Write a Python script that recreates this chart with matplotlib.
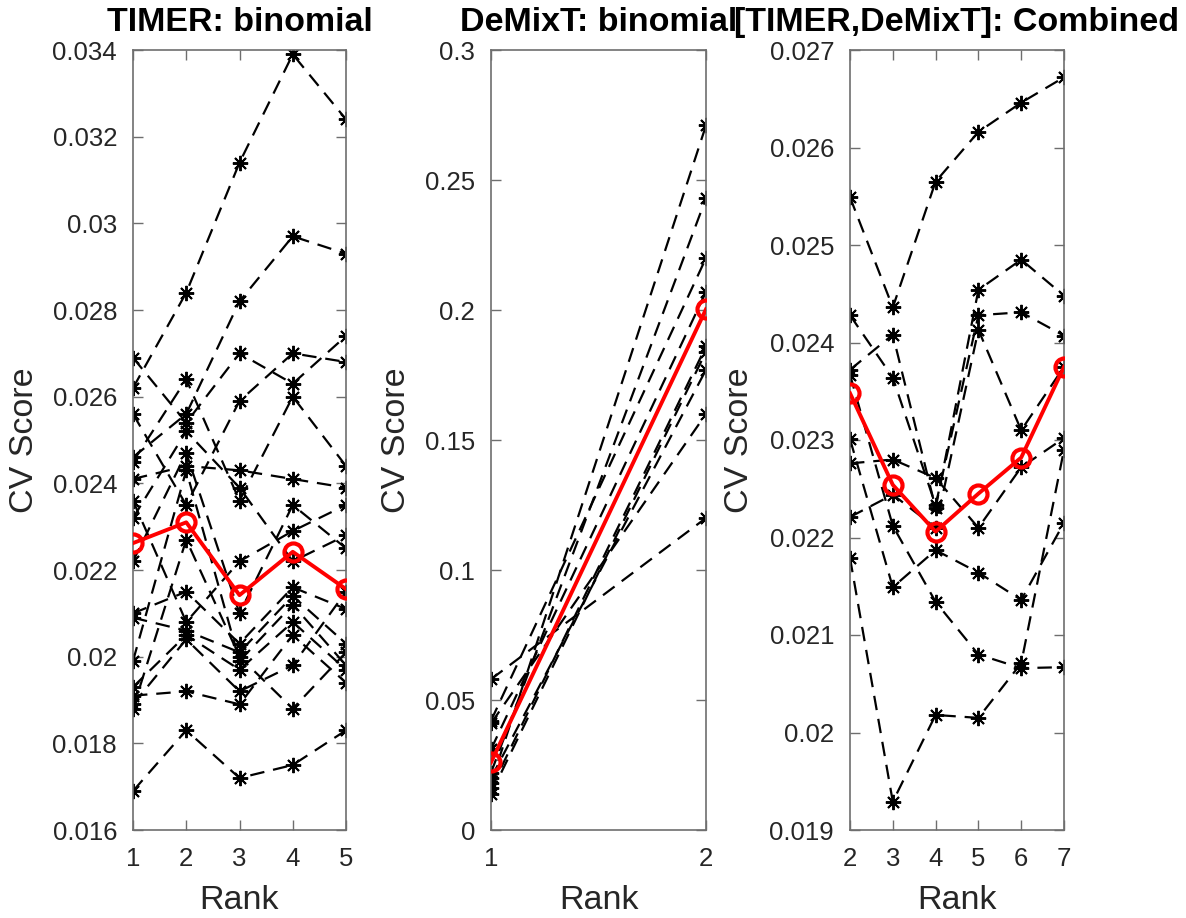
import matplotlib
matplotlib.use("Agg")
import matplotlib.pyplot as plt
from matplotlib.ticker import FuncFormatter
import numpy as np

plt.rcParams['font.family'] = ['Liberation Sans', 'DejaVu Sans']

# ---------------- data ----------------
timer_ranks = [1, 2, 3, 4, 5]
timer_runs = [
    [0.0262, 0.0284, 0.0314, 0.0339, 0.0324],
    [0.0246, 0.0256, 0.0282, 0.0297, 0.0293],
    [0.0169, 0.0183, 0.0172, 0.0175, 0.0183],
    [0.0269, 0.0254, 0.0270, 0.0263, 0.0274],
    [0.0256, 0.0235, 0.0259, 0.0270, 0.0268],
    [0.0245, 0.0264, 0.0236, 0.0260, 0.0244],
    [0.0241, 0.0244, 0.0243, 0.0241, 0.0239],
    [0.0236, 0.0208, 0.0222, 0.0229, 0.0235],
    [0.0232, 0.0252, 0.0239, 0.0222, 0.0228],
    [0.0222, 0.0247, 0.0210, 0.0235, 0.0225],
    [0.0210, 0.0215, 0.0203, 0.0216, 0.0211],
    [0.0209, 0.0206, 0.0201, 0.0214, 0.0203],
    [0.0199, 0.0243, 0.0199, 0.0212, 0.0198],
    [0.0193, 0.0205, 0.0197, 0.0208, 0.0197],
    [0.0191, 0.0192, 0.0189, 0.0205, 0.0194],
    [0.0189, 0.0204, 0.0192, 0.0198, 0.0215],
    [0.0188, 0.0227, 0.0200, 0.0188, 0.0201],
]
timer_mean = [0.02262, 0.02310, 0.02142, 0.02242, 0.02156]

demixt_ranks = [1, 2]
demixt_runs = [
    [0.058, 0.120],
    [0.042, 0.220],
    [0.041, 0.160],
    [0.031, 0.207],
    [0.022, 0.243],
    [0.020, 0.177],
    [0.018, 0.271],
    [0.016, 0.186],
    [0.014, 0.184],
]
demixt_mean = [0.0260, 0.2003]

comb_ranks = [2, 3, 4, 5, 6, 7]
comb_runs = [
    [0.02549, 0.02436, 0.02565, 0.02616, 0.02646, 0.02672],
    [0.02179, 0.01929, 0.02018, 0.02015, 0.02071, 0.02290],
    [0.02367, 0.02212, 0.02134, 0.02080, 0.02066, 0.02067],
    [0.02301, 0.02149, 0.02187, 0.02164, 0.02136, 0.02215],
    [0.02276, 0.02280, 0.02261, 0.02210, 0.02272, 0.02302],
    [0.02372, 0.02408, 0.02230, 0.02454, 0.02485, 0.02448],
    [0.02428, 0.02364, 0.02233, 0.02428, 0.02431, 0.02407],
    [0.02221, 0.02244, 0.02210, 0.02413, 0.02310, 0.02375],
]
comb_mean = [0.02348, 0.02254, 0.02206, 0.02245, 0.02282, 0.02375]

titles = ["TIMER: binomial", "DeMixT: binomial", "[TIMER,DeMixT]: Combined"]
ylims = [(0.016, 0.034), (0.0, 0.3), (0.019, 0.027)]
yticks = [np.arange(0.016, 0.0341, 0.002), np.arange(0.0, 0.301, 0.05),
          np.arange(0.019, 0.0271, 0.001)]
xlims = [(1, 5), (1, 2), (2, 7)]

# ---------------- layout ----------------
W, H = 1186, 918
fig = plt.figure(figsize=(W / 100, H / 100), dpi=100)
boxes_px = [(133, 346), (491, 706), (850, 1064)]
top_px, bot_px = 50, 830
ylabel_right_px = [40, 412, 755]

AX_COL = '#262626'
SPINE_COL = '#6e6e6e'


def fmt(v, pos):
    s = ('%.4f' % v).rstrip('0').rstrip('.')
    return s


panels = [
    (timer_ranks, timer_runs, timer_mean),
    (demixt_ranks, demixt_runs, demixt_mean),
    (comb_ranks, comb_runs, comb_mean),
]

axes = []
for i, (ranks, runs, mean) in enumerate(panels):
    x0, x1 = boxes_px[i]
    ax = fig.add_axes([x0 / W, (H - bot_px) / H, (x1 - x0) / W, (bot_px - top_px) / H])
    axes.append(ax)
    for run in runs:
        ax.plot(ranks, run, color='black', lw=1.6, dashes=(6.5, 4),
                marker=(8, 2, 0), markersize=11, markeredgewidth=1.4,
                markeredgecolor='black', zorder=2)
    ax.plot(ranks, mean, color='#ff0000', lw=2.8, marker='o', markersize=13,
            markerfacecolor='none', markeredgecolor='#ff0000',
            markeredgewidth=3.0, zorder=3)
    ax.set_xlim(*xlims[i])
    ax.set_ylim(*ylims[i])
    ax.set_xticks(ranks)
    ax.set_yticks(yticks[i])
    ax.yaxis.set_major_formatter(FuncFormatter(fmt))
    ax.tick_params(direction='in', length=7, width=1.0, colors=SPINE_COL,
                   labelcolor=AX_COL, labelsize=18.5, top=True, right=True)
    ax.tick_params(axis='y', pad=11.5)
    ax.tick_params(axis='x', pad=12)
    for s in ax.spines.values():
        s.set_color(SPINE_COL)
        s.set_linewidth(1.2)
    ax.set_xlabel('Rank', fontsize=24.5, color=AX_COL, labelpad=10)
    ax.set_ylabel('CV Score', fontsize=24.5, color=AX_COL)
    ax.yaxis.set_label_coords((ylabel_right_px[i] - x0) / (x1 - x0), 0.5)
    ax.set_title(titles[i], fontsize=24.5, fontweight='bold', pad=14, color='black')

fig.savefig('out.png', dpi=100, facecolor='white')
